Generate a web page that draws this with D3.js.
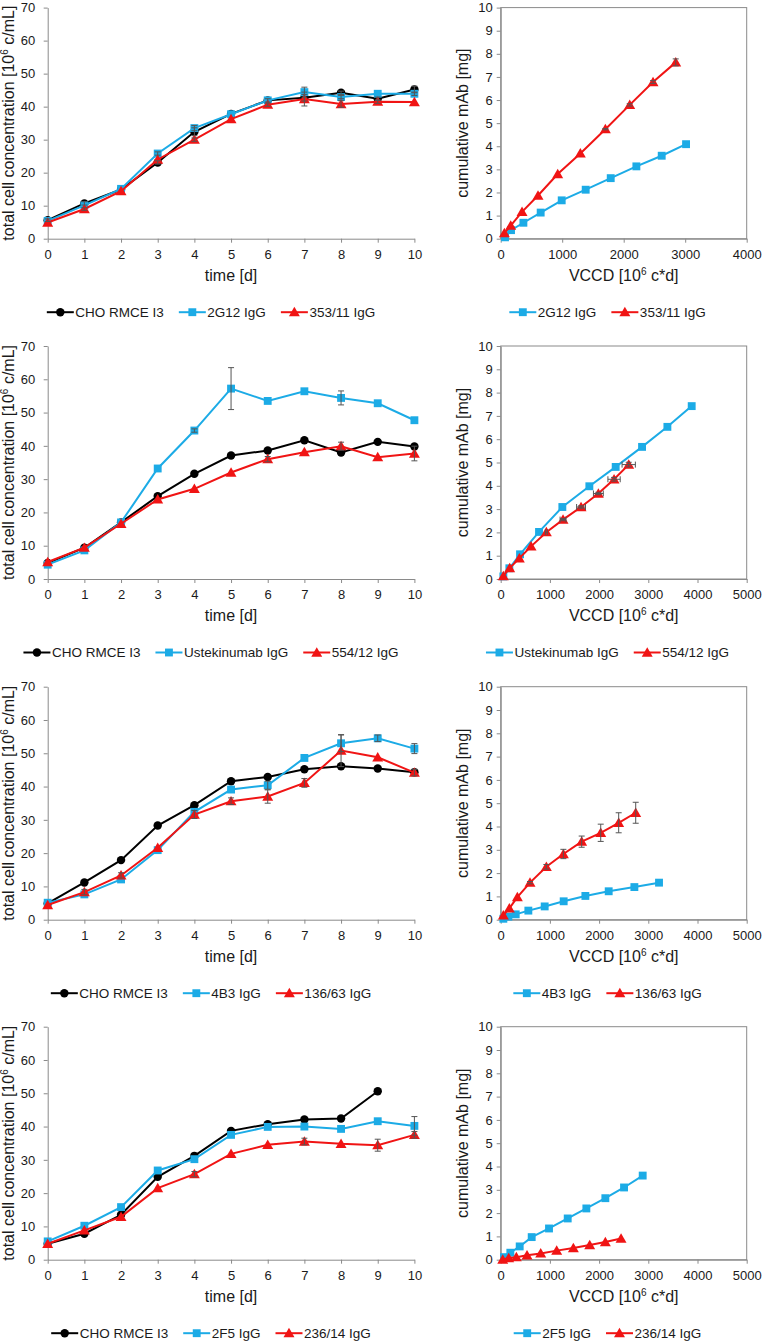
<!DOCTYPE html>
<html><head><meta charset="utf-8">
<script src="https://cdn.jsdelivr.net/npm/d3@7"></script>
<style>
body{margin:0;background:#fff}
svg{display:block}
text{font-family:"Liberation Sans",Arial,Helvetica,sans-serif;fill:#1a1a1a}
</style>
</head><body>
<svg id="c" width="762" height="1341"></svg>
<script>
// ---------- DATA ----------
const days = [0,1,2,3,4,5,6,7,8,9,10];
const yTicksLeft = [0,10,20,30,40,50,60,70];
const yTicksRight = [0,1,2,3,4,5,6,7,8,9,10];

// Row 1 – time course
const cho1    = [5.6,10.7,14.9,23.1,32.4,37.8,41.9,42.7,44.2,42.4,45.2];
const cho1Err = [0.4,0.5,0,0.5,1.2,0,0.5,1.0,0.5,0.5,1.0];
const g2g12   = [5.4,10.1,15.1,25.8,33.5,37.7,41.9,44.4,42.9,43.9,43.9];
const g2g12Err= [0,0,0,0.5,0.8,0,0,1.5,0.5,0,0.5];
const s353    = [4.9,9.0,14.4,24.0,30.0,36.2,40.6,42.3,40.8,41.5,41.4];
const s353Err = [0,0.4,0,0,0.5,0,0.5,2.1,1.0,0.5,0];
// Row 1 – productivity
const vccd2G12 = [70,168,369,650,992,1382,1789,2206,2618,3014];
const mab2G12  = [0.06,0.37,0.69,1.13,1.66,2.12,2.62,3.13,3.59,4.09];
const vccd353  = [60,163,347,607,927,1295,1702,2098,2477,2846];
const mab353   = [0.24,0.57,1.16,1.87,2.80,3.69,4.74,5.79,6.78,7.63];
const mab353Err= [0,0,0,0,0,0,0.03,0.05,0.06,0.15];

// Row 2 – time course
const cho2    = [4.8,9.4,17.0,24.9,31.6,37.1,38.6,41.7,38.0,41.2,39.8];
const cho2Err = [0,0,0,0,0,0,0,0,0,0,0];
const ust     = [4.3,8.6,17.0,33.2,44.6,57.2,53.5,56.4,54.4,52.8,47.7];
const ustErr  = [0,0,0,0,0.5,6.3,0,0,2.1,0,0];
const s554    = [5.1,9.4,16.6,23.9,27.1,32.0,36.0,38.1,39.9,36.6,37.7];
const s554Err = [0,0,0,0,0,0,0.8,0,1.2,0,2.2];
// Row 2 – productivity
const vccdUst  = [54,176,393,779,1253,1802,2337,2873,3388,3882];
const mabUst   = [0.11,0.46,1.06,2.02,3.09,3.98,4.81,5.67,6.53,7.42];
const vccd554  = [54,183,379,617,928,1267,1633,1985,2304,2602];
const mab554   = [0.13,0.47,0.89,1.40,2.01,2.55,3.09,3.67,4.28,4.91];
const vccd554Err = [0,0,0,0,20,60,90,100,125,135];
const mab554Err  = [0,0,0,0,0,0.05,0.05,0.05,0.08,0.1];

// Row 3 – time course
const cho3    = [4.9,11.2,17.9,28.3,34.4,41.6,42.9,45.2,46.1,45.4,44.3];
const cho3Err = [0,0,0,0,0,0,0,0,0,0,0];
const b4b3    = [5.1,7.6,12.1,20.9,32.4,39.1,40.4,48.6,53.0,54.5,51.4];
const b4b3Err = [0,0,0,0,0,0,1.2,0,2.5,1.0,1.5];
const s136    = [4.4,8.3,13.3,21.6,31.6,35.6,37.0,41.1,50.8,48.8,44.2];
const s136Err = [0,0.8,0.8,0,1.2,1.0,2.0,1.3,4.8,0,1.0];
// Row 3 – productivity
const vccd4B3 = [54,156,305,562,894,1280,1721,2195,2717,3218];
const mab4B3  = [0.04,0.13,0.23,0.39,0.57,0.79,1.02,1.22,1.40,1.59];
const vccd136 = [54,176,339,596,928,1274,1646,2033,2398,2744];
const mab136  = [0.19,0.49,0.97,1.59,2.27,2.82,3.35,3.73,4.16,4.59];
const mab136Err = [0,0,0,0.05,0.1,0.2,0.24,0.37,0.43,0.45];

// Row 4 – time course
const cho4    = [4.8,7.8,13.5,24.9,31.2,38.7,40.7,42.1,42.4,50.6,null];
const cho4Err = [0,0,0,0,0,0,0,0,0,0,0];
const f2f5    = [5.5,10.2,15.8,26.8,30.2,37.5,39.9,40.0,39.3,41.6,40.2];
const f2f5Err = [0,0,0,0,0,0,0,0,0,0,2.8];
const s236    = [4.8,8.8,12.9,21.5,25.7,31.8,34.5,35.5,34.8,34.4,37.5];
const s236Err = [0,0,0,0,0.8,0,0,1.0,0,1.8,1.0];
// Row 4 – productivity
const vccd2F5 = [68,196,386,630,982,1362,1741,2127,2507,2886];
const mab2F5  = [0.11,0.30,0.57,0.97,1.34,1.77,2.20,2.64,3.10,3.61];
const vccd236 = [41,163,318,535,813,1138,1477,1809,2127,2446];
const mab236  = [0.01,0.07,0.11,0.19,0.27,0.39,0.50,0.63,0.76,0.91];

const rightXMax = [4000,5000,5000,5000];

// ---------- STYLE / LAYOUT ----------
const COL = {black:"#000000", blue:"#1cabe6", red:"#f01414", axis:"#8a8a8a", err:"#555555"};
const SYM = {circle:d3.symbolCircle, square:d3.symbolSquare, triangle:d3.symbolTriangle};
const SYMSIZE = {circle:56, square:62, triangle:52};
const rowTops = [7.6,346,686.7,1026.7];
const H = 233;
const LX = [47.7,414.4], RX = [500.7,746.7];

const S = (name,color,sym) => ({name,color,sym});
const rows = [
  {left:[[S("CHO RMCE I3",COL.black,"circle"),cho1,cho1Err],[S("2G12 IgG",COL.blue,"square"),g2g12,g2g12Err],[S("353/11 IgG",COL.red,"triangle"),s353,s353Err]],
   right:[[S("2G12 IgG",COL.blue,"square"),vccd2G12,mab2G12,null,null],[S("353/11 IgG",COL.red,"triangle"),vccd353,mab353,null,mab353Err]]},
  {left:[[S("CHO RMCE I3",COL.black,"circle"),cho2,cho2Err],[S("Ustekinumab IgG",COL.blue,"square"),ust,ustErr],[S("554/12 IgG",COL.red,"triangle"),s554,s554Err]],
   right:[[S("Ustekinumab IgG",COL.blue,"square"),vccdUst,mabUst,null,null],[S("554/12 IgG",COL.red,"triangle"),vccd554,mab554,vccd554Err,mab554Err]]},
  {left:[[S("CHO RMCE I3",COL.black,"circle"),cho3,cho3Err],[S("4B3 IgG",COL.blue,"square"),b4b3,b4b3Err],[S("136/63 IgG",COL.red,"triangle"),s136,s136Err]],
   right:[[S("4B3 IgG",COL.blue,"square"),vccd4B3,mab4B3,null,null],[S("136/63 IgG",COL.red,"triangle"),vccd136,mab136,null,mab136Err]]},
  {left:[[S("CHO RMCE I3",COL.black,"circle"),cho4,cho4Err],[S("2F5 IgG",COL.blue,"square"),f2f5,f2f5Err],[S("236/14 IgG",COL.red,"triangle"),s236,s236Err]],
   right:[[S("2F5 IgG",COL.blue,"square"),vccd2F5,mab2F5,null,null],[S("236/14 IgG",COL.red,"triangle"),vccd236,mab236,null,null]]}
];

const svg = d3.select("#c");

function styleAxis(g, fs){
  g.select(".domain").attr("stroke",COL.axis).attr("stroke-width",1);
  g.selectAll(".tick line").attr("stroke",COL.axis);
  g.selectAll(".tick text").attr("font-size",fs).attr("fill","#1a1a1a")
    .attr("font-family",'"Liberation Sans",Arial,sans-serif');
}

function marker(g, sym, color, x, y){
  g.append("path").attr("d", d3.symbol(SYM[sym], SYMSIZE[sym])())
    .attr("transform",`translate(${x},${y + (sym==="triangle"?1:0)})`)
    .attr("fill",color);
}

function legend(cx, cy, items){
  const g = svg.append("g");
  let x = 0;
  items.forEach(s=>{
    g.append("line").attr("x1",x).attr("x2",x+27).attr("y1",0).attr("y2",0)
      .attr("stroke",s.color).attr("stroke-width",2);
    marker(g, s.sym, s.color, x+13.5, 0);
    const t = g.append("text").attr("x",x+28.5).attr("y",0).attr("dy","0.36em")
      .attr("font-size",13.5).text(s.name);
    x = x + 28.5 + t.node().getComputedTextLength() + 15;
  });
  const w = x - 15;
  g.attr("transform",`translate(${cx - w/2},${cy})`);
}

function errBarsY(g, pts, color){
  pts.forEach(p=>{
    if(!p.e) return;
    g.append("line").attr("x1",p.x).attr("x2",p.x).attr("y1",p.y0).attr("y2",p.y1).attr("stroke",color).attr("stroke-width",1);
    [p.y0,p.y1].forEach(yy=>g.append("line").attr("x1",p.x-3).attr("x2",p.x+3).attr("y1",yy).attr("y2",yy).attr("stroke",color).attr("stroke-width",1));
  });
}

rows.forEach((row, ri)=>{
  const top = rowTops[ri], bot = top + H - (ri===0 ? 1.9 : 0);
  // ----- LEFT PANEL -----
  const x = d3.scaleLinear([0,10],[LX[0],LX[1]]);
  const y = d3.scaleLinear([0,70],[bot,top]);
  const gL = svg.append("g");
  gL.append("g").attr("transform",`translate(0,${bot})`)
    .call(d3.axisBottom(x).tickValues(days).tickSize(4).tickSizeOuter(0).tickPadding(7))
    .call(g=>styleAxis(g,13));
  gL.append("g").attr("transform",`translate(${LX[0]},0)`)
    .call(d3.axisLeft(y).tickValues(yTicksLeft).tickSize(4).tickSizeOuter(0).tickPadding(8.5))
    .call(g=>styleAxis(g,13));
  row.left.forEach(([s,vals])=>{
    const line = d3.line().defined(v=>v!=null).x((v,i)=>x(days[i])).y(v=>y(v));
    gL.append("path").datum(vals).attr("d",line).attr("fill","none")
      .attr("stroke",s.color).attr("stroke-width",2);
    vals.forEach((v,i)=>{ if(v!=null) marker(gL, s.sym, s.color, x(days[i]), y(v)); });
  });
  const gE = svg.append("g");
  row.left.forEach(([s,vals,err])=>{
    errBarsY(gE, vals.map((v,i)=>({x:x(days[i]), e:(v!=null&&err[i])?err[i]:0, y0:y((v||0)-err[i]), y1:y((v||0)+err[i])})), COL.err);
  });
  // titles
  svg.append("text").attr("x",(LX[0]+LX[1])/2).attr("y",bot+42).attr("text-anchor","middle")
    .attr("font-size",16).text("time [d]");
  const yt = svg.append("text").attr("transform",`translate(14,${(top+bot)/2}) rotate(-90)`)
    .attr("text-anchor","middle").attr("font-size",16);
  yt.append("tspan").text("total cell concentration [10");
  yt.append("tspan").attr("dy",-6).attr("font-size",10).text("6");
  yt.append("tspan").attr("dy",6).text(" c/mL]");
  legend(211, bot+73.5, row.left.map(d=>d[0]));

  // ----- RIGHT PANEL -----
  const xr = d3.scaleLinear([0,rightXMax[ri]],[RX[0],RX[1]]);
  const yr = d3.scaleLinear([0,10],[bot,top]);
  const gR = svg.append("g");
  gR.append("rect").attr("x",RX[0]).attr("y",top).attr("width",RX[1]-RX[0]).attr("height",bot-top)
    .attr("fill","none").attr("stroke",COL.axis).attr("stroke-width",1);
  gR.append("g").attr("transform",`translate(0,${bot})`)
    .call(d3.axisBottom(xr).tickValues(d3.range(0,rightXMax[ri]+1,1000)).tickSize(4).tickSizeOuter(0).tickPadding(7).tickFormat(d3.format("d")))
    .call(g=>styleAxis(g,13));
  gR.append("g").attr("transform",`translate(${RX[0]},0)`)
    .call(d3.axisLeft(yr).tickValues(yTicksRight).tickSize(4).tickSizeOuter(0).tickPadding(4))
    .call(g=>styleAxis(g,13));
  row.right.forEach(([s,xs,ys])=>{
    const line = d3.line().x((v,i)=>xr(xs[i])).y(v=>yr(v));
    gR.append("path").datum(ys).attr("d",line).attr("fill","none")
      .attr("stroke",s.color).attr("stroke-width",2);
    ys.forEach((v,i)=>marker(gR, s.sym, s.color, xr(xs[i]), yr(v)));
  });
  const gRE = svg.append("g");
  row.right.forEach(([s,xs,ys,xe,ye])=>{
    if(ye) errBarsY(gRE, ys.map((v,i)=>({x:xr(xs[i]), e:ye[i], y0:yr(v-ye[i]), y1:yr(v+ye[i])})), COL.err);
    if(xe) xs.forEach((xv,i)=>{
      if(!xe[i]) return;
      const yy = yr(ys[i]), a = xr(xv-xe[i]), b = xr(xv+xe[i]);
      gRE.append("line").attr("x1",a).attr("x2",b).attr("y1",yy).attr("y2",yy).attr("stroke",COL.err);
      [a,b].forEach(xx=>gRE.append("line").attr("x1",xx).attr("x2",xx).attr("y1",yy-3).attr("y2",yy+3).attr("stroke",COL.err));
    });
  });
  const xt = svg.append("text").attr("x",(RX[0]+RX[1])/2).attr("y",bot+42).attr("text-anchor","middle").attr("font-size",16);
  xt.append("tspan").text("VCCD [10");
  xt.append("tspan").attr("dy",-6).attr("font-size",10).text("6");
  xt.append("tspan").attr("dy",6).text(" c*d]");
  svg.append("text").attr("transform",`translate(468,${(top+bot)/2}) rotate(-90)`)
    .attr("text-anchor","middle").attr("font-size",16).text("cumulative mAb [mg]");
  legend(607.5, bot+73.5, row.right.map(d=>d[0]));
});
</script>
</body></html>
